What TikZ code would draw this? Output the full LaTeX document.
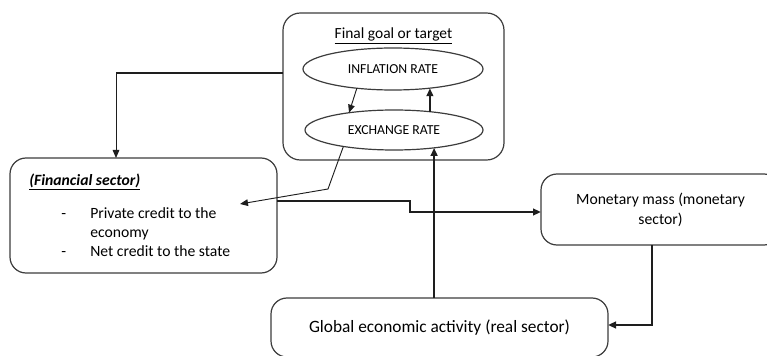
\documentclass[tikz,border=0pt]{standalone}
\usepackage{fontspec}
\setmainfont{Carlito}
\usepackage{tikz}
\usetikzlibrary{arrows.meta,shapes.geometric,calc}
\definecolor{lineblack}{RGB}{30,30,30}
\definecolor{boxgray}{RGB}{60,60,60}
\newdimen\px \px=0.75pt
\tikzset{
  box/.style={rectangle,draw=boxgray,line width=0.9pt,rounded corners=12pt,
    inner sep=0pt,outer sep=0pt,align=center,font=\fontsize{11.75}{15}\selectfont},
  ell/.style={ellipse,draw=boxgray,line width=0.9pt,inner sep=0pt,outer sep=0pt,
    font=\fontsize{10.3}{12}\selectfont},
  lbl/.style={inner sep=0pt,font=\fontsize{11.75}{14.5}\selectfont},
  thinarr/.style={-{Triangle[length=6pt,width=5pt]},line width=0.7pt,color=lineblack},
  thickarr/.style={-{Triangle[length=6pt,width=5pt]},line width=1.7pt,color=lineblack},
  thickline/.style={line width=1.7pt,color=lineblack}
}
\begin{document}
\begin{tikzpicture}[x=0.75pt,y=-0.75pt]
  \clip (0,0) rectangle (767,356);
  % boxes
  \node[box,minimum width={221*\px},minimum height={147*\px},rounded corners=13pt] (goal) at (393.5,86.5) {};
  \node[lbl,font=\fontsize{11.6}{13}\selectfont] (goaltitle) at (393.5,36) {\underline{Final goal or target}};
  \node[ell,minimum width={180*\px},minimum height={42*\px}] (infl) at (393,69) {INFLATION RATE};
  \node[ell,minimum width={178*\px},minimum height={40*\px}] (exch) at (394,130) {EXCHANGE RATE};
  \node[box,minimum width={267*\px},minimum height={115*\px}] (fin) at (143.5,215.5) {};
  \node[lbl,anchor=west] (finhead) at (29,182) {\underline{\textbf{\textit{(Financial sector)}}}};
  \node[lbl,anchor=west] (finlist) at (61,233.5) {%
    \begin{tabular}{@{}p{21.75pt}@{}l@{}}
      - & Private credit to the\\
        & economy\\
      - & Net credit to the state
    \end{tabular}};
  \node[box,minimum width={239*\px},minimum height={71*\px}] (mon) at (660.5,209.5) {Monetary mass (monetary\\sector)};
  \node[box,minimum width={337*\px},minimum height={59*\px},font=\fontsize{13}{15}\selectfont] (glob) at (439.5,327.5) {Global economic activity (real sector)};

  % connectors
  \coordinate (k1) at (116,73);
  \draw[thickline] (goal.west |- k1) -- (k1);
  \draw[thinarr] (k1) -- (k1 |- fin.north);
  \coordinate (t1) at (240,204);
  \draw[thinarr] (exch.198) -- (328,189) -- (t1);
  \coordinate (k2) at (410,201);
  \coordinate (k3) at (410,212);
  \draw[thickarr] (fin.east |- k2) -- (k2) -- (k3) -- (k3 -| mon.west);
  \draw[thickarr] (exch.-24 |- glob.north) -- (exch.-24);
  \draw[thinarr] (infl.208) -- (exch.159);
  \draw[thickarr] (exch.27) -- (exch.27 |- infl.-28);
  \coordinate (k5) at (652,325);
  \draw[thickarr] (k5 |- mon.south) -- (k5) -- (k5 -| glob.east);
\end{tikzpicture}
\end{document}
